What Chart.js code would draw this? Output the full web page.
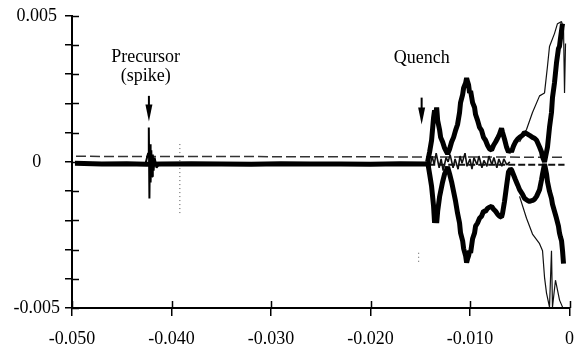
<!DOCTYPE html>
<html>
<head>
<meta charset="utf-8">
<script src="https://cdn.jsdelivr.net/npm/chart.js@4/dist/chart.umd.min.js"></script>
<style>
html,body{margin:0;padding:0;background:#fff;}
#wrap{width:577px;height:353px;}
</style>
</head>
<body>
<div id="wrap"><canvas id="c" width="577" height="353"></canvas></div>
<script>
// ---- axis ticks ----
const xTickVals = [-0.05, -0.04, -0.03, -0.02, -0.01, 0];
const yTickVals = [-0.005, -0.004, -0.003, -0.002, -0.001, 0, 0.001, 0.002, 0.003, 0.004, 0.005];
const yLabelVals = [-0.005, 0, 0.005];

// ---- thick baseline before the quench ----
const baseX = [-0.0497, -0.0470, -0.0445, -0.0425, -0.0410, -0.0380, -0.0350, -0.0320, -0.0290, -0.0260, -0.0230, -0.0200, -0.0170, -0.0142];
const baseY = [-0.00005, -0.00007, -0.00006, -0.00008, -0.00007, -0.00006, -0.00007, -0.00008, -0.00006, -0.00007, -0.00007, -0.00008, -0.00006, -0.00007];

// ---- precursor spike ----
const spikeX = [-0.0426, -0.04235, -0.04228, -0.04222, -0.04216, -0.0421, -0.04203, -0.04195, -0.04188, -0.0418, -0.0417, -0.0415, -0.0412];
const spikeY = [-0.00005, 0.0003, 0.00118, -0.00125, 0.0006, -0.0007, 0.0004, -0.0005, 0.00025, -0.0003, 0.00015, -0.0002, -0.00005];

// ---- dashed trace slightly above zero ----
const dashX = [-0.0496, -0.0300, -0.0150, -0.0005];
const dashY = [0.00019, 0.00018, 0.00017, 0.00016];

// ---- dashed trace slightly below zero in quench region ----
const lowDashX = [-0.0142, -0.0005];
const lowDashY = [-0.0001, -0.0001];

// ---- upper thick quench trace ----
const upX = [-0.01426, -0.01406, -0.01386, -0.01366, -0.01356, -0.01346, -0.01335, -0.01325, -0.01305, -0.01295, -0.01275, -0.01255, -0.01235, -0.01225, -0.01205, -0.01185, -0.01165, -0.01145, -0.01125, -0.01105, -0.01095, -0.01074, -0.01064, -0.01044, -0.01034, -0.01024, -0.01014, -0.01004, -0.00994, -0.00974, -0.00954, -0.00944, -0.00924, -0.00904, -0.00884, -0.00864, -0.00844, -0.00824, -0.00803, -0.00783, -0.00763, -0.00743, -0.00723, -0.00703, -0.00683, -0.00673, -0.00653, -0.00633, -0.00613, -0.00593, -0.00583, -0.00563, -0.00543, -0.00522, -0.00502, -0.00472, -0.00452, -0.00422, -0.00402, -0.00372, -0.00352, -0.00331, -0.00301, -0.00281, -0.00271, -0.00251, -0.00231, -0.00221, -0.00201, -0.00181, -0.00171, -0.00151, -0.00131, -0.00111, -0.00101, -0.00091, -0.00080, -0.00070];
const upY = [0, 0.00034, 0.00074, 0.00152, 0.00176, 0.00162, 0.00186, 0.00142, 0.00108, 0.00084, 0.00068, 0.00047, 0.00034, 0.00027, 0.00044, 0.00068, 0.00084, 0.00108, 0.00128, 0.00169, 0.00203, 0.00230, 0.00253, 0.00270, 0.00287, 0.00274, 0.00263, 0.00236, 0.00243, 0.00203, 0.00186, 0.00162, 0.00142, 0.00118, 0.00108, 0.00084, 0.00074, 0.00057, 0.00044, 0.00041, 0.00057, 0.00068, 0.00081, 0.00095, 0.00115, 0.00101, 0.00078, 0.00051, 0.00034, 0.00041, 0.00034, 0.00054, 0.00068, 0.00078, 0.00084, 0.00091, 0.00101, 0.00095, 0.00091, 0.00084, 0.00081, 0.00074, 0.00051, 0.00034, 0.00017, 0, 0.00034, 0.00051, 0.00118, 0.00169, 0.00220, 0.00270, 0.00338, 0.00388, 0.00395, 0.00422, 0.00449, 0.00473];

// ---- lower thick quench trace ----
const loX = [-0.01426, -0.01406, -0.01386, -0.01366, -0.01356, -0.01346, -0.01335, -0.01325, -0.01305, -0.01295, -0.01275, -0.01255, -0.01235, -0.01225, -0.01205, -0.01185, -0.01165, -0.01145, -0.01125, -0.01105, -0.01095, -0.01074, -0.01064, -0.01044, -0.01034, -0.01024, -0.01014, -0.01004, -0.00994, -0.00974, -0.00954, -0.00944, -0.00924, -0.00904, -0.00884, -0.00864, -0.00844, -0.00824, -0.00803, -0.00783, -0.00763, -0.00743, -0.00723, -0.00703, -0.00683, -0.00673, -0.00653, -0.00633, -0.00613, -0.00593, -0.00583, -0.00563, -0.00543, -0.00522, -0.00502, -0.00472, -0.00452, -0.00422, -0.00402, -0.00372, -0.00352, -0.00331, -0.00301, -0.00281, -0.00271, -0.00251, -0.00231, -0.00221, -0.00201, -0.00181, -0.00171, -0.00151, -0.00131, -0.00111, -0.00101, -0.00091, -0.00080, -0.00070, -0.00060];
const loY = [0, -0.00041, -0.00084, -0.00152, -0.00209, -0.00186, -0.00209, -0.00169, -0.00118, -0.00101, -0.00068, -0.00041, -0.00027, -0.00017, -0.00041, -0.00068, -0.00101, -0.00135, -0.00176, -0.00209, -0.00243, -0.00270, -0.00297, -0.00321, -0.00345, -0.00331, -0.00321, -0.00304, -0.00311, -0.00263, -0.00243, -0.00220, -0.00209, -0.00193, -0.00186, -0.00169, -0.00169, -0.00159, -0.00155, -0.00152, -0.00162, -0.00169, -0.00179, -0.00186, -0.00189, -0.00176, -0.00135, -0.00084, -0.00034, -0.00024, -0.00027, -0.00044, -0.00061, -0.00078, -0.00095, -0.00111, -0.00125, -0.00132, -0.00135, -0.00132, -0.00128, -0.00118, -0.00095, -0.00061, -0.00041, -0.00007, -0.00041, -0.00068, -0.00101, -0.00125, -0.00145, -0.00169, -0.00193, -0.00220, -0.00243, -0.00257, -0.00270, -0.00304, -0.00348];

// ---- thin upper trace ----
const thinUpX = [-0.00502, -0.00432, -0.00372, -0.00301, -0.00251, -0.00221, -0.00201, -0.00151, -0.00121, -0.00080, -0.00060, -0.00050, -0.00040];
const thinUpY = [0.00068, 0.00111, 0.00169, 0.00226, 0.00236, 0.00328, 0.00395, 0.00439, 0.00473, 0.00480, 0.00456, 0.00236, 0.00405];

// ---- thin lower trace ----
const thinLoX = [-0.00502, -0.00432, -0.00372, -0.00301, -0.00271, -0.00251, -0.00231, -0.00201, -0.00181, -0.00171, -0.00141, -0.00100, -0.00070];
const thinLoY = [-0.00118, -0.00193, -0.00247, -0.00280, -0.00304, -0.00395, -0.00449, -0.00497, -0.00304, -0.00497, -0.00405, -0.00473, -0.00497];

// ---- noisy core near zero in the quench ----
const noiseX = [-0.0143, -0.0141, -0.0138, -0.0136, -0.0134, -0.0131, -0.0129, -0.0127, -0.0124, -0.0122, -0.0120, -0.0117, -0.0115, -0.0112, -0.0110, -0.0108, -0.0105, -0.0103, -0.0100, -0.0098, -0.0096, -0.0093, -0.0091, -0.0088, -0.0086, -0.0083, -0.0081, -0.0078, -0.0076, -0.0073, -0.0071, -0.0068, -0.0066, -0.0063, -0.0060];
const noiseY = [0.0001, -0.0003, 0.0002, -0.0001, 0.0003, -0.0002, 0.0001, -0.0003, 0.00015, 0.0000, 0.00025, -0.0002, 0.0001, -0.00025, 0.0002, -0.00005, 0.0003, -0.00015, 0.0001, -0.00025, 0.00015, -0.0001, 0.0002, -0.0002, 0.00005, -0.00015, 0.0002, -0.0001, 0.00015, -0.0002, 0.0001, -0.00015, 0.0001, -0.0001, 0.0000];

// ---- faint dotted verticals ----
const dot1X = [-0.03916, -0.03916];
const dot1Y = [0.00061, -0.00176];
const dot2X = [-0.01516, -0.01516];
const dot2Y = [-0.00311, -0.00345];

// ---- annotations (data units) ----
const notes = [
  {text: 'Precursor', x: -0.0426, y: 0.00341},
  {text: '(spike)', x: -0.0426, y: 0.00277},
  {text: 'Quench', x: -0.01486, y: 0.00338}
];
const arrows = [
  {x: -0.04227, y0: 0.00226, y1: 0.00138},
  {x: -0.01486, y0: 0.00220, y1: 0.00128}
];

function pts(xs, ys){ return xs.map((x,i)=>({x:x, y:ys[i]})); }
function ds(xs, ys, w, color, dash){
  return {data: pts(xs, ys), borderColor: color, borderWidth: w, borderDash: dash || [],
          pointRadius: 0, tension: 0, fill: false, borderJoinStyle: 'bevel', borderCapStyle: 'butt'};
}

const FONT = '"Liberation Serif", "Times New Roman", serif';

const annotPlugin = {
  id: 'annot',
  afterDraw(chart){
    const ctx = chart.ctx, xs = chart.scales.x, ys = chart.scales.y;
    ctx.save();
    ctx.strokeStyle = '#000';
    ctx.lineWidth = 1.5;
    yTickVals.forEach(v => {
      const py = Math.round(ys.getPixelForValue(v)) + 0.5;
      ctx.beginPath(); ctx.moveTo(xs.left, py); ctx.lineTo(xs.left + 7, py); ctx.stroke();
    });
    xTickVals.forEach(v => {
      const px = Math.round(xs.getPixelForValue(v)) + 0.5;
      ctx.beginPath(); ctx.moveTo(px, ys.bottom); ctx.lineTo(px, ys.bottom - 7); ctx.stroke();
    });
    ctx.fillStyle = '#000';
    arrows.forEach(a => {
      const px = xs.getPixelForValue(a.x);
      const p0 = ys.getPixelForValue(a.y0);
      const p1 = ys.getPixelForValue(a.y1);
      ctx.lineWidth = 2;
      ctx.beginPath(); ctx.moveTo(px, p0); ctx.lineTo(px, p1 - 12); ctx.stroke();
      ctx.beginPath();
      ctx.moveTo(px - 3.5, p1 - 17);
      ctx.lineTo(px + 3.5, p1 - 17);
      ctx.lineTo(px, p1);
      ctx.closePath(); ctx.fill();
    });
    ctx.font = '18px ' + FONT;
    ctx.textAlign = 'center';
    ctx.textBaseline = 'alphabetic';
    notes.forEach(n => {
      ctx.fillText(n.text, xs.getPixelForValue(n.x), ys.getPixelForValue(n.y));
    });
    ctx.restore();
  }
};

function fmt(v){ return Math.abs(v) < 1e-9 ? '0' : v.toFixed(3); }

new Chart(document.getElementById('c'), {
  type: 'line',
  data: {
    datasets: [
      ds(upX, upY, 5, '#000'),
      ds(loX, loY, 5, '#000'),
      ds(spikeX, spikeY, 2, '#000'),
      ds(baseX, baseY, 5, '#000'),
      ds(thinUpX, thinUpY, 1.2, '#111'),
      ds(thinLoX, thinLoY, 1.2, '#111'),
      ds(noiseX, noiseY, 1.6, '#111'),
      ds(dashX, dashY, 1.5, '#333', [10, 4]),
      ds(lowDashX, lowDashY, 2, '#111', [7, 3]),
      ds(dot1X, dot1Y, 1, '#555', [1, 3]),
      ds(dot2X, dot2Y, 1, '#555', [1, 3])
    ]
  },
  options: {
    responsive: false,
    animation: false,
    events: [],
    layout: {padding: {top: 12, right: 7, left: 0, bottom: 0}},
    plugins: {legend: {display: false}, tooltip: {enabled: false}},
    scales: {
      x: {
        type: 'linear', min: -0.05, max: 0,
        afterBuildTicks: s => { s.ticks = xTickVals.map(v => ({value: v})); },
        afterFit: s => { s.height = 45; },
        grid: {display: true, drawOnChartArea: false, drawTicks: true, tickLength: 8, color: '#000', lineWidth: 1.5},
        border: {display: true, color: '#000', width: 2},
        ticks: {color: '#000', font: {family: FONT, size: 18, lineHeight: 2.2}, padding: 3, maxRotation: 0, autoSkip: false,
                callback: v => fmt(v)}
      },
      y: {
        type: 'linear', min: -0.005, max: 0.005,
        afterBuildTicks: s => { s.ticks = yTickVals.map(v => ({value: v})); },
        afterFit: s => { s.width = 72; },
        grid: {display: true, drawOnChartArea: false, drawTicks: true, tickLength: 7, color: '#000', lineWidth: 1.5},
        border: {display: true, color: '#000', width: 2},
        ticks: {color: '#000', font: {family: FONT, size: 18}, padding: 5, crossAlign: 'center', autoSkip: false,
                callback: v => yLabelVals.some(l => Math.abs(l - v) < 1e-9) ? fmt(v) : ''}
      }
    }
  },
  plugins: [annotPlugin]
});
</script>
</body>
</html>
